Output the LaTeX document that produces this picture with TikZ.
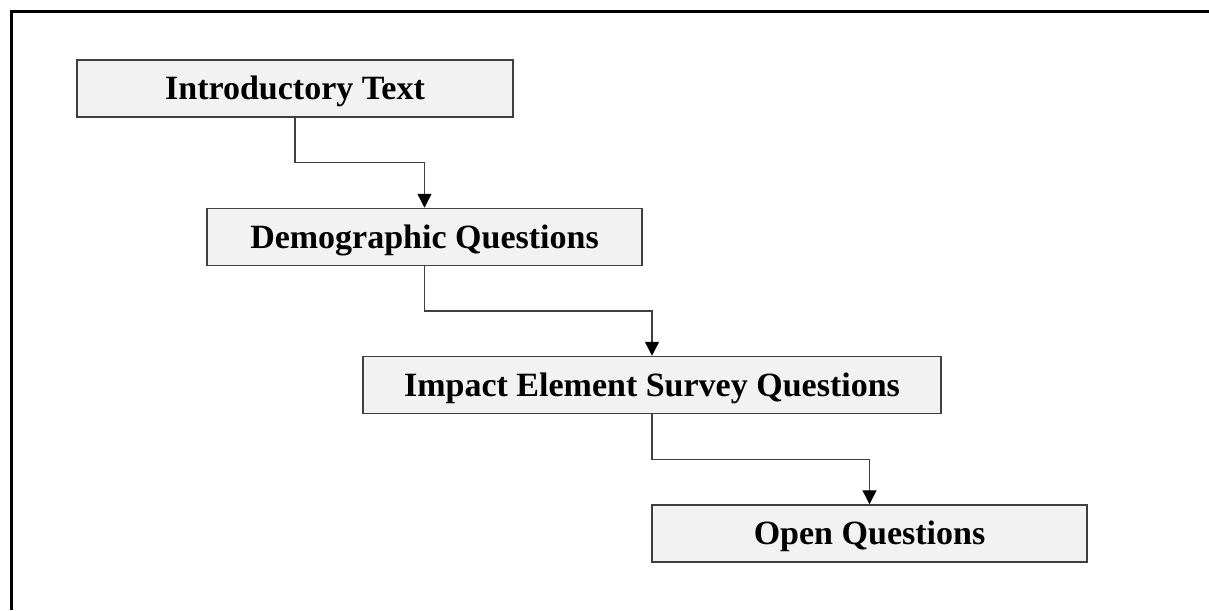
\documentclass[tikz,border=0pt]{standalone}
\usepackage{fontspec}
\setmainfont{Liberation Serif}
\usetikzlibrary{arrows.meta,calc}

\definecolor{boxfill}{HTML}{F2F2F2}
\definecolor{boxline}{HTML}{3F3F3F}

\tikzset{
  stagebox/.style={draw=boxline, line width=1.5pt, fill=boxfill,
    minimum height=57pt, inner sep=0pt, text height=22pt, text depth=0pt,
    font=\fontsize{34}{40}\selectfont\bfseries},
  flowarrow/.style={draw=boxline, line width=1.4pt,
    -{Triangle[length=14pt,width=14pt,fill=black,color=black]}},
  frameline/.style={draw=black, line width=3pt}
}

\begin{document}
\begin{tikzpicture}[x=1pt, y=-1pt]
  \useasboundingbox (0,0) rectangle (1209,610);

  % outer frame (left and top edges)
  \draw[frameline] (11.5,610) -- (11.5,11.5) -- (1209,11.5);

  % survey stages
  \node[stagebox, minimum width=436pt] (intro) at (295,88.5) {Introductory Text};
  \node[stagebox, minimum width=435pt] (demo)  at (424.5,237) {Demographic Questions};
  \node[stagebox, minimum width=578pt] (impact) at (652,385) {Impact Element Survey Questions};
  \node[stagebox, minimum width=435pt] (open)  at (869.5,533.5) {Open Questions};

  % elbow connectors between consecutive stages
  \foreach \a/\b in {intro/demo, demo/impact, impact/open}{
    \coordinate (m) at ($(\a.south)!0.5!(\b.north)$);
    \draw[flowarrow] (\a.south) -- (\a.south |- m) -| (\b.north);
  }
\end{tikzpicture}
\end{document}
